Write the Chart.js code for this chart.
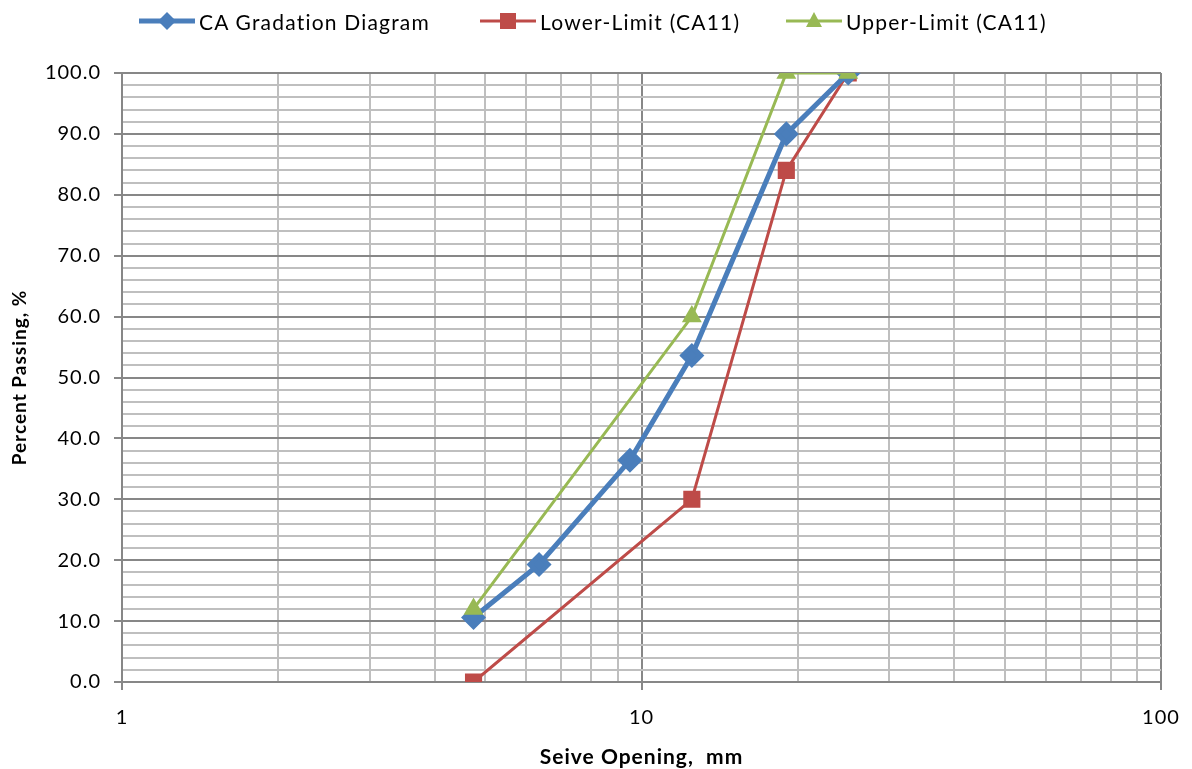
<!DOCTYPE html>
<html lang="en">
  <head>
    <meta charset="UTF-8" />
    <title>CA Gradation Diagram</title>
    <script src="https://cdn.jsdelivr.net/npm/chart.js"></script>
    <style>
      html, body {
        margin: 0;
        padding: 0;
        background: #fff;
      }
      .wrap {
        position: relative;
        width: 1192px;
        height: 769px;
      }
      #legend {
        position: absolute;
        top: 6px;
        left: 0;
        width: 1192px;
        font-family: Lato, "Open Sans", sans-serif;
        font-size: 21px;
        letter-spacing: 1.2px;
        color: #000;
      }
      .item {
        position: absolute;
        top: 0;
        display: flex;
        align-items: center;
        height: 30px;
        white-space: nowrap;
      }
      .item svg { margin-right: 3px; flex: none; }
    </style>
  </head>
  <body>
    <div class="wrap">
      <canvas id="gradChart" width="1192" height="769"></canvas>
      <div id="legend">
        <div class="item" style="left:138px">
          <svg width="58" height="30"><line x1="1" y1="15" x2="57" y2="15" stroke="#4A7EBB" stroke-width="5"/><polygon points="29,6 38,15 29,24 20,15" fill="#4A7EBB"/></svg>
          <span>CA Gradation Diagram</span>
        </div>
        <div class="item" style="left:479px">
          <svg width="58" height="30"><line x1="1" y1="15" x2="57" y2="15" stroke="#BE4B48" stroke-width="3"/><rect x="21" y="7" width="16" height="16" fill="#BE4B48"/></svg>
          <span>Lower-Limit (CA11)</span>
        </div>
        <div class="item" style="left:785px">
          <svg width="58" height="30"><line x1="1" y1="15" x2="57" y2="15" stroke="#98B954" stroke-width="3"/><polygon points="29,6 37,21 21,21" fill="#98B954"/></svg>
          <span>Upper-Limit (CA11)</span>
        </div>
      </div>
    </div>

    <script>
      // sieve openings, mm
      const sieveSizes = [4.75, 6.35, 9.5, 12.5, 19, 25];
      const caPassing = [10.6, 19.3, 36.4, 53.6, 90.0, 100.0];

      const limitSizes = [4.75, 12.5, 19, 25];
      const lowerLimit = [0, 30, 84, 100];
      const upperLimit = [12, 60, 100, 100];

      const xTickLabels = [1, 10, 100];
      const yMajorStep = 10;

      function toPoints(xs, ys) {
        return xs.map(function (x, i) { return { x: x, y: ys[i] }; });
      }

      function isDecade(v) {
        return xTickLabels.indexOf(v) !== -1;
      }

      // excel-ish wide text spacing on the canvas
      const spacingPlugin = {
        id: "spacing",
        beforeUpdate: function (chart) { chart.ctx.letterSpacing = "1px"; },
        beforeDraw: function (chart) { chart.ctx.letterSpacing = "1px"; },
      };

      const ctx = document.getElementById("gradChart").getContext("2d");
      new Chart(ctx, {
        type: "line",
        plugins: [spacingPlugin],
        data: {
          datasets: [
            {
              label: "CA Gradation Diagram",
              data: toPoints(sieveSizes, caPassing),
              borderColor: "#4A7EBB",
              backgroundColor: "#4A7EBB",
              borderWidth: 5,
              pointStyle: "rectRot",
              pointRadius: 9,
              pointHoverRadius: 9,
              order: 1,
            },
            {
              label: "Lower-Limit (CA11)",
              data: toPoints(limitSizes, lowerLimit),
              borderColor: "#BE4B48",
              backgroundColor: "#BE4B48",
              borderWidth: 3,
              pointStyle: "rect",
              pointRadius: 10,
              pointHoverRadius: 10,
              order: 2,
            },
            {
              label: "Upper-Limit (CA11)",
              data: toPoints(limitSizes, upperLimit),
              borderColor: "#98B954",
              backgroundColor: "#98B954",
              borderWidth: 3,
              pointStyle: "triangle",
              pointRadius: 8.5,
              pointHoverRadius: 8.5,
              order: 0,
            },
          ],
        },
        options: {
          responsive: false,
          animation: false,
          layout: {
            padding: { top: 73, right: 31, left: 0, bottom: -3 },
          },
          plugins: {
            legend: { display: false },
            tooltip: { enabled: false },
          },
          scales: {
            x: {
              type: "logarithmic",
              min: 1,
              max: 100,
              afterFit: function (scale) {
                scale.height = 90;
                scale.paddingRight = 0;
              },
              afterBuildTicks: function (scale) {
                const t = [];
                for (let d = 1; d < 100; d *= 10) {
                  for (let k = 1; k < 10; k++) t.push({ value: k * d });
                }
                t.push({ value: 100 });
                scale.ticks = t;
              },
              ticks: {
                autoSkip: false,
                maxRotation: 0,
                color: "#000",
                padding: 16,
                font: { family: "Lato", size: 20 },
                callback: function (v) {
                  return isDecade(v) ? String(v) : "";
                },
              },
              grid: {
                color: function (c) {
                  return isDecade(c.tick.value) ? "#878787" : "#BFBFBF";
                },
                lineWidth: 2,
                tickLength: 8,
                tickColor: function (c) {
                  return isDecade(c.tick.value) ? "#878787" : "rgba(0,0,0,0)";
                },
              },
              border: { color: "#878787", width: 2 },
              title: {
                display: true,
                text: "Seive Opening,  mm",
                color: "#000",
                font: { family: "Lato", size: 21, weight: "bold" },
                padding: { top: 14, bottom: 2 },
              },
            },
            y: {
              min: 0,
              max: 100,
              afterFit: function (scale) { scale.width = 122; },
              ticks: {
                stepSize: 2,
                autoSkip: false,
                color: "#000",
                padding: 13,
                font: { family: "Lato", size: 20 },
                callback: function (v) {
                  return v % yMajorStep === 0 ? v.toFixed(1) : "";
                },
              },
              grid: {
                color: function (c) {
                  return c.tick.value % yMajorStep === 0 ? "#878787" : "#BFBFBF";
                },
                lineWidth: 2,
                tickLength: 8,
                tickColor: function (c) {
                  return c.tick.value % yMajorStep === 0 ? "#878787" : "rgba(0,0,0,0)";
                },
              },
              border: { color: "#878787", width: 2 },
              title: {
                display: true,
                text: "Percent Passing, %",
                color: "#000",
                font: { family: "Lato", size: 19, weight: "bold" },
                padding: { top: 8, bottom: 4 },
              },
            },
          },
        },
      });
    </script>
  </body>
</html>
